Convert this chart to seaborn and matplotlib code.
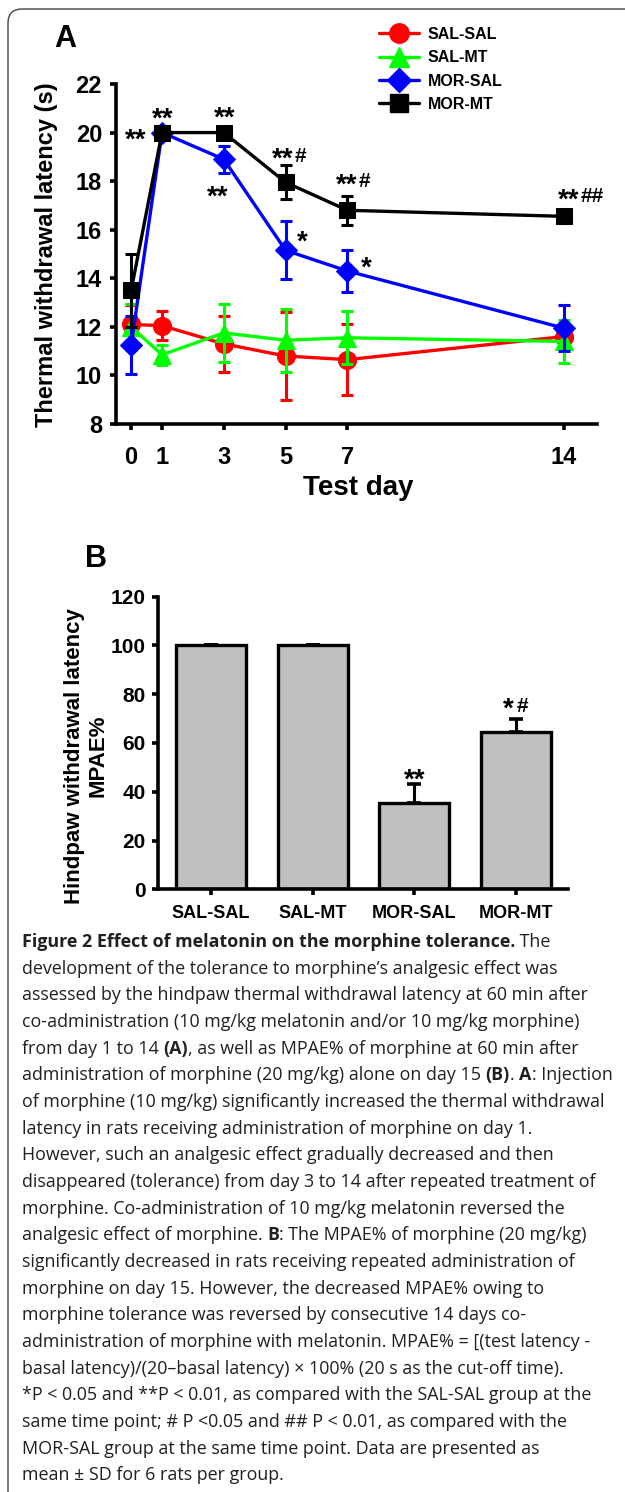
import matplotlib
matplotlib.use("Agg")
import matplotlib.pyplot as plt
from matplotlib.lines import Line2D
from matplotlib.patches import FancyBboxPatch
from matplotlib.offsetbox import TextArea, HPacker, AnnotationBbox
import numpy as np
import seaborn as sns

# panel A: thermal withdrawal latency (s), mean and SD per test day
days = [0, 1, 3, 5, 7, 14]
groups = ["SAL-SAL", "SAL-MT", "MOR-SAL", "MOR-MT"]
sal_sal = [12.1, 12.05, 11.3, 10.8, 10.65, 11.6]
sal_sal_sd = [0.8, 0.6, 1.15, 1.8, 1.45, 0.5]
sal_mt = [12.0, 10.85, 11.75, 11.45, 11.55, 11.4]
sal_mt_sd = [0.95, 0.4, 1.2, 1.3, 1.1, 0.9]
mor_sal = [11.25, 20.0, 18.9, 15.15, 14.3, 11.95]
mor_sal_sd = [1.2, 0.1, 0.55, 1.2, 0.85, 0.95]
mor_mt = [13.5, 20.0, 20.0, 17.95, 16.8, 16.55]
mor_mt_sd = [1.5, 0.1, 0.1, 0.7, 0.6, 0.15]

# panel B: MPAE% on day 15
mpae = [100, 100, 35.5, 64.6]
mpae_sd = [0, 0, 7.7, 5.1]

# significance marks (text, placed by hand like in the original)
sig_a_x = [-0.19, 0.67, 2.69, 2.46, 4.55, 5.37, 6.63, 7.44, 13.82]
sig_a_y = [20.2, 21.06, 21.1, 17.87, 19.42, 15.99, 18.36, 14.93, 17.75]
sig_a_stars = ["**", "**", "**", "**", "**", "*", "**", "*", "**"]
sig_a_hash = ["", "", "", "", "#", "", "#", "", "##"]

caption = [
    [("Figure 2 Effect of melatonin on the morphine tolerance.", True), (" The", False)],
    [("development of the tolerance to morphine\u2019s analgesic effect was", False)],
    [("assessed by the hindpaw thermal withdrawal latency at 60 min after", False)],
    [("co-administration (10 mg/kg melatonin and/or 10 mg/kg morphine)", False)],
    [("from day 1 to 14 ", False), ("(A)", True), (", as well as MPAE% of morphine at 60 min after", False)],
    [("administration of morphine (20 mg/kg) alone on day 15 ", False), ("(B)", True), (". ", False),
     ("A", True), (": Injection", False)],
    [("of morphine (10 mg/kg) significantly increased the thermal withdrawal", False)],
    [("latency in rats receiving administration of morphine on day 1.", False)],
    [("However, such an analgesic effect gradually decreased and then", False)],
    [("disappeared (tolerance) from day 3 to 14 after repeated treatment of", False)],
    [("morphine. Co-administration of 10 mg/kg melatonin reversed the", False)],
    [("analgesic effect of morphine. ", False), ("B", True), (": The MPAE% of morphine (20 mg/kg)", False)],
    [("significantly decreased in rats receiving repeated administration of", False)],
    [("morphine on day 15. However, the decreased MPAE% owing to", False)],
    [("morphine tolerance was reversed by consecutive 14 days co-", False)],
    [("administration of morphine with melatonin. MPAE% = [(test latency -", False)],
    [("basal latency)/(20\u2013basal latency) \u00d7 100% (20 s as the cut-off time).", False)],
    [("*P < 0.05 and **P < 0.01, as compared with the SAL-SAL group at the", False)],
    [("same time point; # P <0.05 and ## P < 0.01, as compared with the", False)],
    [("MOR-SAL group at the same time point. Data are presented as", False)],
    [("mean \u00b1 SD for 6 rats per group.", False)],
]

sns.set_theme(style="ticks")
plt.rcParams["font.family"] = ["Liberation Sans", "DejaVu Sans"]
plt.rcParams["font.weight"] = "bold"
for k in ["axes.edgecolor", "xtick.color", "ytick.color", "text.color", "axes.labelcolor"]:
    plt.rcParams[k] = "black"

W, H = 625, 1492
fig = plt.figure(figsize=(W / 100, H / 100), dpi=100)
fig.patch.set_facecolor("white")

# rounded frame around the whole figure
frame = FancyBboxPatch((8, -30), 660, H - 9 + 30, boxstyle="round,pad=0,rounding_size=14",
                       transform=None, facecolor="none", edgecolor="#444444", lw=1.0)
fig.add_artist(frame)

# ---------------- panel A ----------------
ax = fig.add_axes([116 / W, 1 - 424 / H, (597 - 116) / W, 340 / H])
colors = ["#ff0000", "#00ff00", "#0000ff", "#000000"]
marks = ["o", "^", "D", "s"]
msizes = [13, 13, 11, 12]
means = [sal_sal, sal_mt, mor_sal, mor_mt]
sds = [sal_sal_sd, sal_mt_sd, mor_sal_sd, mor_mt_sd]

for i, g in enumerate(groups):
    ax.errorbar(days, means[i], yerr=sds[i], fmt="none", ecolor=colors[i],
                elinewidth=2.2, capsize=4.5, capthick=2.2, zorder=3 + 2 * i)
    sns.lineplot(x=days, y=means[i], color=colors[i], marker=marks[i], markersize=msizes[i],
                 markeredgecolor=colors[i], linewidth=2.4, errorbar=None, ax=ax,
                 zorder=4 + 2 * i, legend=False)

ax.set_xlim(-0.49, 15.08)
ax.set_ylim(8, 22)
ax.set_xticks(days)
ax.set_yticks(range(8, 23, 2))
ax.set_xlabel("")
ax.set_ylabel("")
sns.despine(ax=ax)
for s in ["left", "bottom"]:
    ax.spines[s].set_linewidth(2.6)
ax.tick_params(axis="both", direction="out", length=4, width=2.6, labelsize=17)
ax.tick_params(axis="x", pad=12)
ax.tick_params(axis="y", pad=6)

for x, y, st, hs in zip(sig_a_x, sig_a_y, sig_a_stars, sig_a_hash):
    t = ax.text(x, y, st, fontsize=20, weight="bold", ha="left", va="top", zorder=20)
    if hs:
        ax.annotate(hs, xy=(1, 1), xycoords=t, xytext=(1, 0), textcoords="offset points",
                    fontsize=15, weight="bold", ha="left", va="top")

handles = [Line2D([0], [0], color=c, marker=m, markersize=ms + 1, lw=2.4)
           for c, m, ms in zip(colors, marks, msizes)]
fig.legend(handles, groups, loc="upper left", bbox_to_anchor=(379 / W, 1 - 27 / H),
           frameon=False, borderpad=0, borderaxespad=0, handlelength=2.5,
           handletextpad=0.55, labelspacing=0.52, prop=dict(size=11.5, weight="bold"))

fig.text(47 / W, 1 - 255 / H, "Thermal withdrawal latency (s)", rotation=90, ha="center",
         va="center", fontsize=17, weight="bold")
fig.text(358 / W, 1 - 495 / H, "Test day", ha="center", va="baseline", fontsize=20)
fig.text(65 / W, 1 - 47 / H, "A", ha="center", va="baseline", fontsize=22, weight="bold")

# ---------------- panel B ----------------
axb = fig.add_axes([158 / W, 1 - 889.3 / H, 410 / W, 292.6 / H])
sns.barplot(x=groups, y=mpae, color="#c0c0c0", saturation=1, edgecolor="black",
            linewidth=2.4, width=0.69, errorbar=None, ax=axb)
axb.errorbar(range(len(groups)), mpae, yerr=[np.zeros(len(mpae)), mpae_sd], fmt="none",
             ecolor="black", elinewidth=2.2, capsize=5, capthick=2.6, zorder=5)
axb.set_xlim(-0.52, 3.51)
axb.set_ylim(0, 120)
axb.set_yticks(range(0, 121, 20))
axb.set_xlabel("")
axb.set_ylabel("")
sns.despine(ax=axb)
for s in ["left", "bottom"]:
    axb.spines[s].set_linewidth(2.6)
axb.tick_params(axis="both", direction="out", length=4, width=2.6)
axb.tick_params(axis="y", labelsize=15, pad=5)
axb.tick_params(axis="x", labelsize=13, pad=7)

axb.text(2, 50.0, "**", fontsize=20, weight="bold", ha="center", va="top")
tb = axb.text(2.87, 79.0, "*", fontsize=20, weight="bold", ha="left", va="top")
axb.annotate("#", xy=(1, 1), xycoords=tb, xytext=(2, 0), textcoords="offset points",
             fontsize=15, weight="bold", ha="left", va="top")

fig.text(86 / W, 1 - 756 / H, "Hindpaw withdrawal latency\nMPAE%", rotation=90, ha="center",
         va="center", fontsize=16, weight="bold", linespacing=1.15, multialignment="center")
fig.text(96 / W, 1 - 567 / H, "B", ha="center", va="baseline", fontsize=22, weight="bold")

# ---------------- caption ----------------
cax = fig.add_axes([0, 0, 1, 1])
cax.set_axis_off()
cax.patch.set_alpha(0)
for i, line in enumerate(caption):
    parts = []
    for txt, bold in line:
        parts.append(TextArea(txt, textprops=dict(fontsize=12.9, family=["Open Sans", "DejaVu Sans"],
                                                  weight="bold" if bold else "normal",
                                                  color="#231f20")))
    box = HPacker(children=parts, align="baseline", pad=0, sep=0)
    ab = AnnotationBbox(box, (22, H - (951 + 26.67 * i)), xycoords="figure pixels",
                        box_alignment=(0, 0), frameon=False, pad=0)
    cax.add_artist(ab)

fig.savefig("out.png", dpi=100)
